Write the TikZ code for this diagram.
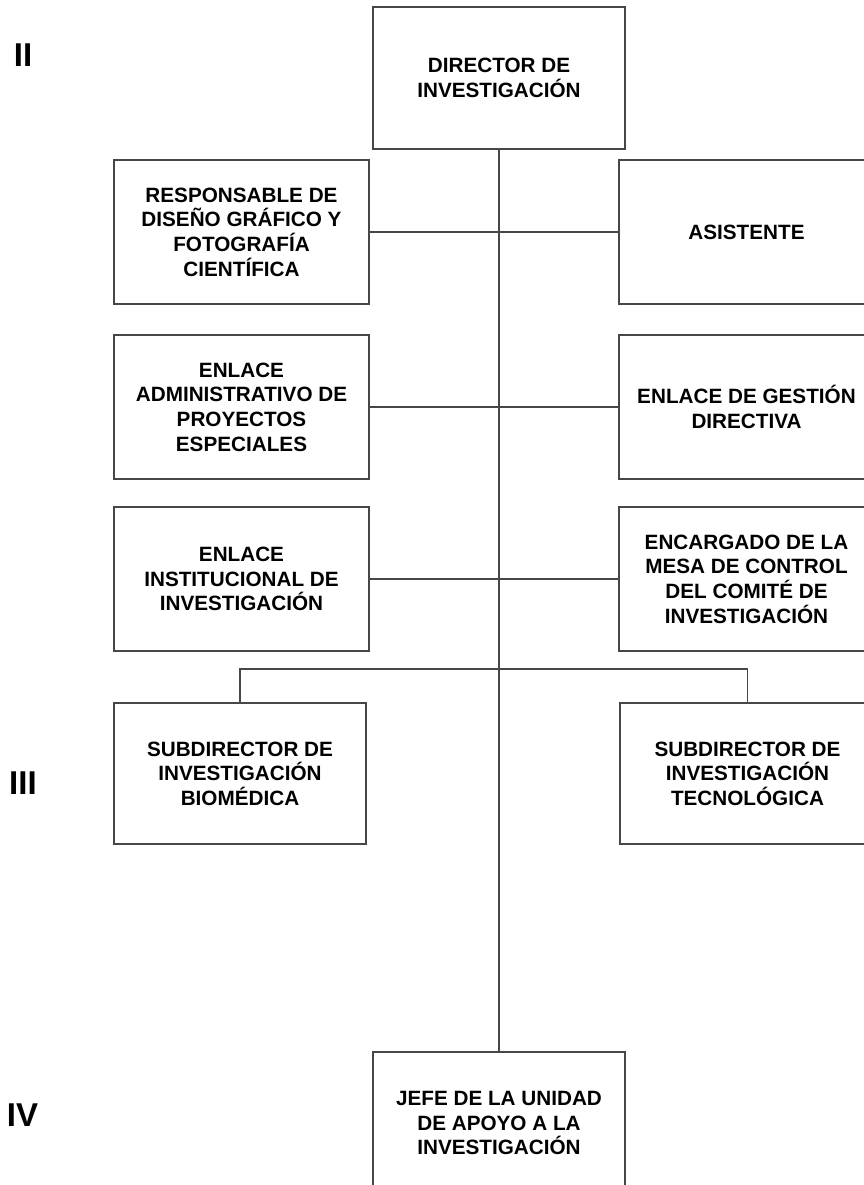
\documentclass[tikz,border=0pt]{standalone}
\usepackage{fontspec}
\setmainfont{Liberation Sans}
\begin{document}
\begin{tikzpicture}[x=1pt,y=-1pt,
  box/.style={draw=black!72,line width=1.2pt,fill=white,align=center,inner sep=0pt,
    font=\bfseries\fontsize{20.7}{24.6}\selectfont},
  wide/.style={box,minimum width=255pt},
  narrow/.style={box,minimum width=252pt},
  conn/.style={draw=black!72,line width=1.2pt},
  level/.style={font=\bfseries\fontsize{33}{36}\selectfont,inner sep=0pt}]
\useasboundingbox (0,0) rectangle (864,1185);
\clip (0,0) rectangle (864,1185);
\fill[white] (0,0) rectangle (864,1185);
% levels
\node[level] (l2) at (23,55) {II};
\node[level] (l3) at (23,783.5) {III};
\node[level] (l4) at (22.5,1115) {IV};
% boxes
\node[narrow,minimum height=142pt] (dir) at (499,78) {DIRECTOR DE\\INVESTIGACIÓN};
\node[wide,minimum height=144pt] (resp) at (241.5,232) {RESPONSABLE DE\\DISEÑO GRÁFICO Y\\FOTOGRAFÍA\\CIENTÍFICA};
\node[wide,minimum height=144pt] (asis) at (746.5,232) {ASISTENTE};
\node[wide,minimum height=144pt] (adm) at (241.5,407) {ENLACE\\ADMINISTRATIVO DE\\PROYECTOS\\ESPECIALES};
\node[wide,minimum height=144pt] (ges) at (746.5,407) {ENLACE DE GESTIÓN\\DIRECTIVA};
\node[wide,minimum height=144pt] (ins) at (241.5,579) {ENLACE\\INSTITUCIONAL DE\\INVESTIGACIÓN};
\node[wide,minimum height=144pt] (mesa) at (746.5,579) {ENCARGADO DE LA\\MESA DE CONTROL\\DEL COMITÉ DE\\INVESTIGACIÓN};
\node[narrow,minimum height=141pt] (bio) at (240,773.5) {SUBDIRECTOR DE\\INVESTIGACIÓN\\BIOMÉDICA};
\node[wide,minimum height=141pt] (tec) at (747.5,773.5) {SUBDIRECTOR DE\\INVESTIGACIÓN\\TECNOLÓGICA};
\node[narrow,minimum height=142pt] (jefe) at (499,1123) {JEFE DE LA UNIDAD\\DE APOYO A LA\\INVESTIGACIÓN};
% connectors
\coordinate (bar) at (499,669);
\draw[conn] (dir.south) -- (jefe.north);
\draw[conn] (resp.east) -- (asis.west);
\draw[conn] (adm.east) -- (ges.west);
\draw[conn] (ins.east) -- (mesa.west);
\draw[conn] (bio.north) |- (bar) -| (tec.north);
\end{tikzpicture}
\end{document}
